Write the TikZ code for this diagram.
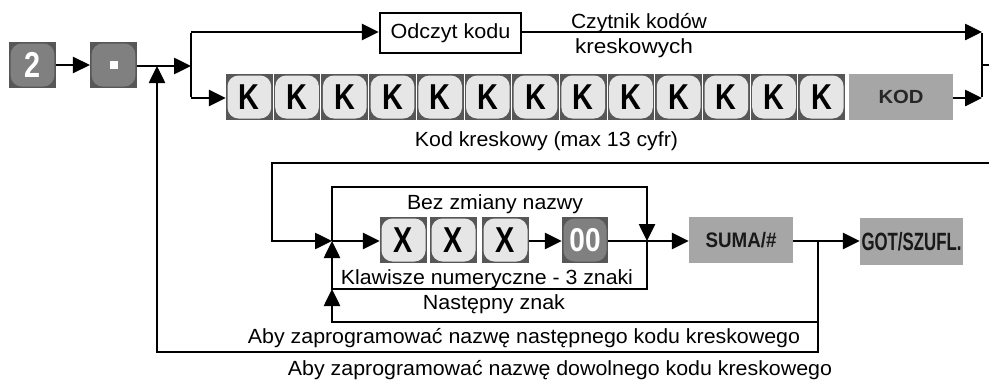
\documentclass[tikz,border=0pt]{standalone}
\usepackage{fontspec}
\setmainfont{Liberation Sans}
\usepackage{graphicx}
\usetikzlibrary{arrows.meta}
\definecolor{keyframe}{HTML}{575757}
\definecolor{keylight}{HTML}{E6E6E6}
\definecolor{keymid}{HTML}{808080}
\definecolor{boxgray}{HTML}{A6A6A6}
\newcommand\lbl[2]{\resizebox{#1}{\height}{#2}}
\newcommand\keyfont{\fontsize{36}{36}\selectfont\bfseries}
\tikzset{
  ln/.style={line width=2.6pt},
  arr/.style={line width=2.6pt,-{Triangle[length=17pt,width=16pt]}},
  lab/.style={anchor=base,inner sep=0pt,font=\fontsize{20.5}{20.5}\selectfont},
  keybase/.style={rectangle,fill=keyframe,minimum width=46.7pt,minimum height=46pt,inner sep=0pt,font=\keyfont},
  keyL/.style={keybase,path picture={\fill[keylight,rounded corners=11pt] ([shift={(1.5pt,-1.5pt)}]path picture bounding box.north west) rectangle ([shift={(-1.5pt,1.5pt)}]path picture bounding box.south east);}},
  keyD/.style={keybase,text=white,path picture={\fill[keymid,rounded corners=11pt] ([shift={(1.5pt,-1.5pt)}]path picture bounding box.north west) rectangle ([shift={(-1.5pt,1.5pt)}]path picture bounding box.south east);}},
  fbox/.style={rectangle,fill=boxgray,inner sep=0pt,text=black!90,font=\bfseries},
}
\begin{document}
\begin{tikzpicture}[x=1pt,y=-1pt]
\fill[white] (0,0) rectangle (989,380);
\useasboundingbox (0,0) rectangle (989,380);

% first row
\node[keyD] (n2) at (32.5,65) {\scalebox{0.8}[1]{2}};
\node[keyD] (ndot) at (113.5,65) {\color{white}\rule{8pt}{8pt}};
\coordinate (j1) at (157,66);
\coordinate (js) at (191,66);
\coordinate (jsT) at (191,32);
\coordinate (jsB) at (191,98);
\draw[arr] (n2.east) -- (ndot.west);
\draw[arr] (ndot.east |- js) -- (js);
\draw[ln] ([yshift=-1.3pt]jsT) -- ([yshift=1.3pt]jsB);

\node[draw,line width=2.4pt,fill=white,minimum width=141pt,minimum height=40pt,inner sep=0pt,font=\fontsize{20.5}{20.5}\selectfont] (odczyt) at (450.5,33) {\lbl{120pt}{Odczyt kodu}};
\draw[arr] (jsT) -- (odczyt.west |- jsT);

\foreach \i in {1,...,13} {
  \node[keyL] (k\i) at ({226+23.35+(\i-1)*47.7},97) {\scalebox{0.8}[1]{K}};
}
\node[fbox,minimum width=104pt,minimum height=46pt,text=black!85] (kod) at (901,97) {\resizebox{45pt}{\height}{\fontsize{19}{19}\selectfont\bfseries KOD}};
\draw[arr] (jsB) -- (k1.west |- jsB);

\coordinate (rT) at (982,32);
\coordinate (rB) at (982,98);
\coordinate (rM) at (982,65);
\coordinate (rE) at (989,65);
\draw[arr] (odczyt.east |- rT) -- (rT);
\draw[arr] (kod.east |- rB) -- (rB);
\draw[ln] ([yshift=-1.3pt]rT) -- ([yshift=1.3pt]rB);
\draw[ln] (rM) -- (rE);

\node[lab] (t1) at (639,28) {\lbl{136pt}{Czytnik kodów}};
\node[lab] (t2) at (634,53) {\lbl{118pt}{kreskowych}};
\node[lab] (t3) at (546.5,146) {\lbl{263pt}{Kod kreskowy (max 13 cyfr)}};

% second row
\coordinate (e2) at (989,163);
\coordinate (c2a) at (272,163);
\coordinate (c2b) at (272,241);
\coordinate (jL) at (332,241);
\coordinate (jLt) at (332,187);
\coordinate (jRt) at (647,187);
\coordinate (jR) at (647,241);
\coordinate (jRb) at (647,289);
\coordinate (jLb) at (332,289);
\coordinate (jS) at (818,241);
\coordinate (jSm) at (818,322);
\coordinate (jLm) at (332,322);
\coordinate (jSb) at (818,352);
\coordinate (j1b) at (157,352);

\draw[arr] (e2) -- (c2a) -- (c2b) -- (jL);

\node[keyL,minimum width=47pt] (x1) at (403.5,240) {\scalebox{0.8}[1]{X}};
\node[keyL,minimum width=47pt] (x2) at (453.5,240) {\scalebox{0.8}[1]{X}};
\node[keyL,minimum width=47pt] (x3) at (505.5,240) {\scalebox{0.8}[1]{X}};
\node[keyD,minimum width=46pt,font=\fontsize{33}{33}\selectfont\bfseries] (k00) at (585,240) {\scalebox{0.85}[1]{00}};
\node[fbox,minimum width=104pt,minimum height=46pt] (suma) at (741,240) {\resizebox{71pt}{\height}{\fontsize{21}{21}\selectfont\bfseries SUMA/\#}};
\node[fbox,minimum width=103pt,minimum height=47pt] (got) at (911.5,241.5) {\resizebox{100pt}{\height}{\fontsize{25}{25}\selectfont\bfseries GOT/SZUFL.}};

\draw[arr] (jL) -- (x1.west |- jL);
\draw[arr] (x3.east |- jL) -- (k00.west |- jL);
\draw[ln] (k00.east |- jR) -- (jR);
\draw[arr] (jR) -- (suma.west |- jR);
\draw[arr] (suma.east |- jS) -- (got.west |- jS);
\draw[arr] (jL) -- (jLt) -- (jRt) -- (jR);
\draw[arr] (jR) -- (jRb) -- (jLb) -- (jL);
\draw[arr] (jS) -- (jSm) -- (jLm) -- (jLb);
\draw[arr] (jS) -- (jSb) -- (j1b) -- (j1);

\node[lab] (t4) at (495,209) {\lbl{176pt}{Bez zmiany nazwy}};
\node[lab] (t5) at (487,284) {\lbl{292pt}{Klawisze numeryczne - 3 znaki}};
\node[lab] (t6) at (494,309) {\lbl{142pt}{Następny znak}};
\node[lab] (t7) at (524,343) {\lbl{552pt}{Aby zaprogramować nazwę następnego kodu kreskowego}};
\node[lab] (t8) at (560,375) {\lbl{544pt}{Aby zaprogramować nazwę dowolnego kodu kreskowego}};
\end{tikzpicture}
\end{document}
